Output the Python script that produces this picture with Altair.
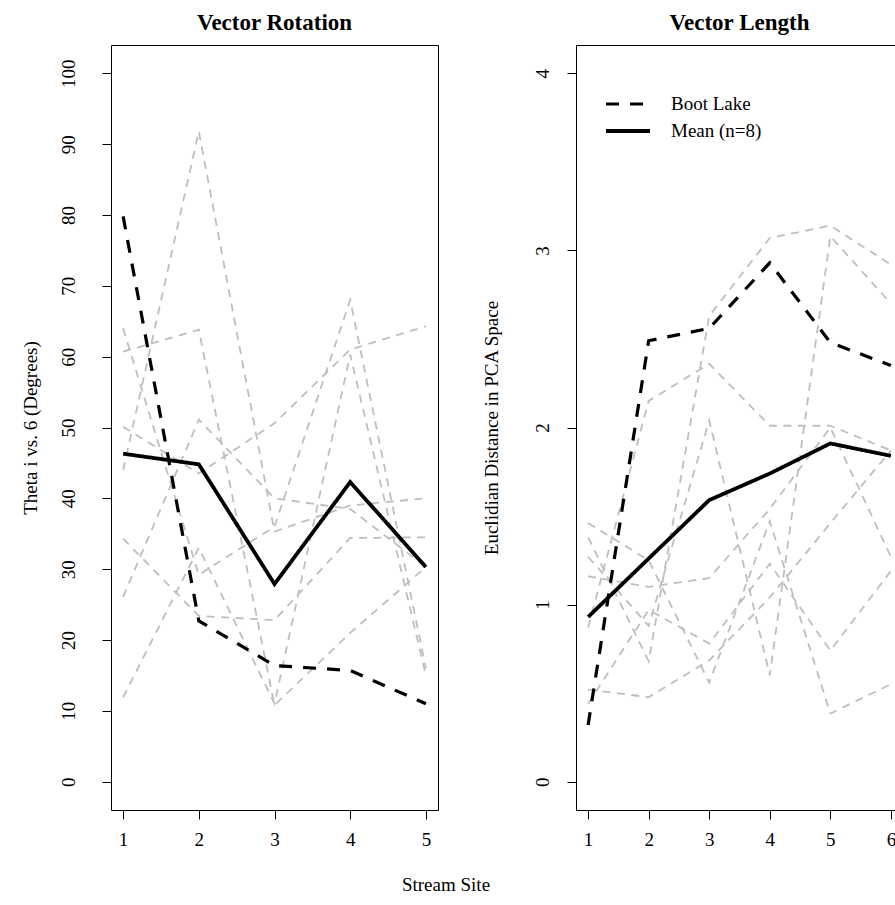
import altair as alt
import pandas as pd

# ---------------- data ----------------
sites_rot = [1, 2, 3, 4, 5]
rot_lake_a = [44.0, 91.8, 35.3, 39.0, 40.0]
rot_lake_b = [60.7, 63.8, 10.8, 21.0, 30.3]
rot_lake_c = [64.0, 29.2, 36.0, 68.0, 16.0]
rot_lake_d = [11.9, 33.0, 11.0, 60.3, 15.0]
rot_lake_e = [26.1, 51.1, 40.0, 38.5, 30.3]
rot_lake_f = [50.1, 43.5, 50.6, 61.0, 64.3]
rot_lake_g = [34.3, 23.4, 22.8, 34.4, 34.5]
rot_boot = [79.8, 22.7, 16.4, 15.7, 11.0]
rot_mean = [46.3, 44.8, 27.9, 42.3, 30.3]

sites_len = [1, 2, 3, 4, 5, 6]
len_lake_a = [1.38, 0.68, 2.63, 3.07, 3.14, 2.92]
len_lake_b = [1.27, 0.88, 2.04, 0.60, 3.08, 2.70]
len_lake_c = [0.87, 2.15, 2.36, 2.01, 2.01, 1.87]
len_lake_d = [1.46, 1.25, 0.56, 1.47, 0.385, 0.55]
len_lake_e = [0.52, 0.477, 0.685, 1.04, 1.46, 1.87]
len_lake_f = [0.44, 0.97, 0.78, 1.23, 0.74, 1.19]
len_lake_g = [1.16, 1.10, 1.15, 1.54, 2.00, 1.27]
len_boot = [0.32, 2.49, 2.56, 2.93, 2.48, 2.35]
len_mean = [0.93, 1.26, 1.59, 1.74, 1.91, 1.84]

key_labels = ["Boot Lake", "Mean (n=8)"]
rot_ticks = [0, 10, 20, 30, 40, 50, 60, 70, 80, 90, 100]
len_ticks = [0, 1, 2, 3, 4]

FONT = "Liberation Serif"
GRAY = "#BEBEBE"


def gray_frame(sites, lakes):
    rows = []
    for name, vals in lakes.items():
        for s, v in zip(sites, vals):
            rows.append({"site": s, "value": v, "lake": name})
    return pd.DataFrame(rows)


def key_frame(sites, boot, mean):
    rows = []
    for s, v in zip(sites, boot):
        rows.append({"site": s, "value": v, "series": key_labels[0]})
    for s, v in zip(sites, mean):
        rows.append({"site": s, "value": v, "series": key_labels[1]})
    return pd.DataFrame(rows)


rot_gray = gray_frame(sites_rot, {
    "Lake A": rot_lake_a, "Lake B": rot_lake_b, "Lake C": rot_lake_c,
    "Lake D": rot_lake_d, "Lake E": rot_lake_e, "Lake F": rot_lake_f,
    "Lake G": rot_lake_g})
rot_key = key_frame(sites_rot, rot_boot, rot_mean)

len_gray = gray_frame(sites_len, {
    "Lake A": len_lake_a, "Lake B": len_lake_b, "Lake C": len_lake_c,
    "Lake D": len_lake_d, "Lake E": len_lake_e, "Lake F": len_lake_f,
    "Lake G": len_lake_g})
len_key = key_frame(sites_len, len_boot, len_mean)


def panel(gray_df, key_df, xdom, ydom, xticks, yticks, ytitle, title,
          width, height, legend, ylabel_pad, ytitle_pad):
    xs = alt.Scale(domain=xdom, nice=False, zero=False)
    ys = alt.Scale(domain=ydom, nice=False, zero=False)
    xaxis = alt.Axis(orient="bottom", values=xticks, format="d", tickSize=9,
                     tickColor="black", domain=False, labelFont=FONT,
                     labelFontSize=19, labelColor="black", labelPadding=11,
                     labelBaseline="top", labelFlush=False, labelOverlap=False,
                     grid=False, title=None)
    yaxis = alt.Axis(orient="left", values=yticks, format="d", tickSize=9,
                     tickColor="black", domain=False, labelFont=FONT,
                     labelFontSize=19, labelColor="black", labelAngle=270,
                     labelAlign="center", labelBaseline="alphabetic",
                     labelPadding=ylabel_pad, labelFlush=False,
                     labelOverlap=False, grid=False, title=ytitle,
                     titleFont=FONT, titleFontSize=19,
                     titleFontWeight="normal", titleColor="black",
                     titleBaseline="alphabetic", titlePadding=ytitle_pad,
                     minExtent=40, maxExtent=40)
    xenc = alt.X("site:Q", scale=xs, axis=xaxis)
    yenc = alt.Y("value:Q", scale=ys, axis=yaxis)

    grays = alt.Chart(gray_df).mark_line(
        color=GRAY, strokeDash=[8, 6.5], strokeWidth=1.8
    ).encode(x=xenc, y=yenc, detail="lake:N")

    keys = alt.Chart(key_df).mark_line(color="black").encode(
        x=xenc,
        y=yenc,
        strokeDash=alt.StrokeDash(
            "series:N",
            scale=alt.Scale(domain=key_labels, range=[[13, 11], [1, 0]]),
            legend=legend),
        strokeWidth=alt.StrokeWidth(
            "series:N",
            scale=alt.Scale(domain=key_labels, range=[3.2, 3.8]),
            legend=None),
    )

    ttl = alt.TitleParams(title, font=FONT, fontSize=23, fontWeight="bold",
                          color="black", anchor="middle",
                          baseline="alphabetic", offset=-8)
    return alt.layer(grays, keys).properties(width=width, height=height,
                                             title=ttl)


left = panel(rot_gray, rot_key, [0.84, 5.16], [-4, 104], sites_rot, rot_ticks,
             "Theta i vs. 6 (Degrees)", "Vector Rotation", 327, 765, None,
             28, 35)

legend = alt.Legend(orient="none", legendX=39, legendY=46, title=None,
                    symbolType="M-2,0H2", symbolSize=484,
                    symbolStrokeWidth=3.4, symbolStrokeColor="black",
                    symbolFillColor="transparent",
                    labelFont=FONT, labelFontSize=19, labelColor="black",
                    labelOffset=30, rowPadding=4, padding=0)

right = panel(len_gray, len_key, [0.8, 6.2], [-0.16, 4.16], sites_len,
              len_ticks, "Euclidian Distance in PCA Space", "Vector Length",
              327, 765, legend, 19, 39)

chart = alt.hconcat(left, right, spacing=138, bounds="flush").resolve_scale(
    x="independent", y="independent", strokeDash="independent",
    strokeWidth="independent"
).resolve_legend(strokeDash="independent").properties(
    title=alt.TitleParams("Stream Site", orient="bottom", anchor="middle",
                          font=FONT, fontSize=19, fontWeight="normal",
                          color="black", baseline="alphabetic", offset=41,
                          dx=-16),
    padding={"left": 20, "top": 11, "right": -9, "bottom": 5},
).configure_view(stroke="black", strokeWidth=1)

chart.save("out.html", embed_options={"renderer": "svg", "actions": False})
